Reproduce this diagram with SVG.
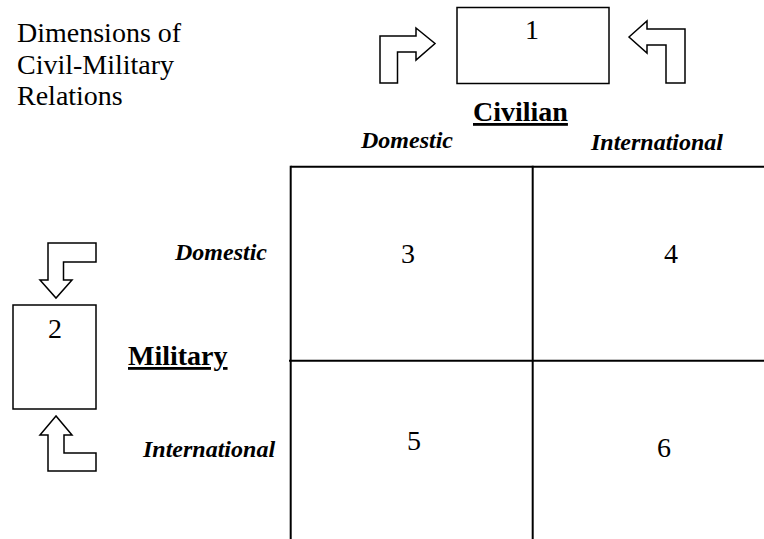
<svg xmlns="http://www.w3.org/2000/svg" width="764" height="539" viewBox="0 0 764 539">
<style>
text{font-family:"Liberation Serif","Times New Roman",serif;fill:#000}
.t{font-size:28px}
.d{font-size:28px;text-anchor:middle}
.lab{font-size:24px;font-weight:bold;font-style:italic}
.hd{font-size:28px;font-weight:bold;text-decoration:underline}
.box{fill:#fff;stroke:#000;stroke-width:1.5}
.arr{fill:#fff;stroke:#000;stroke-width:1.5;stroke-linejoin:miter}
.grid{stroke:#000;stroke-width:2;fill:none}
</style>
<rect width="764" height="539" fill="#fff"/>
<g id="title">
<text class="t" x="17" y="42">Dimensions of</text>
<text class="t" x="17" y="74">Civil-Military</text>
<text class="t" x="17" y="105">Relations</text>
</g>
<g id="box1">
<rect class="box" x="457" y="7.5" width="152" height="76"/>
<text class="d" x="532" y="39">1</text>
</g>
<g id="box2">
<rect class="box" x="13" y="305" width="83" height="104"/>
<text class="d" x="55" y="338">2</text>
</g>
<g id="connectors">
<polygon class="arr" points="380,83 380,36 416,36 416,28 435,43.5 416,60 416,52 397.5,52 397.5,83"/>
<polygon class="arr" points="629,37 647,21 647,29 685,29 685,83 666,83 666,45 647,45 647,53"/>
<polygon class="arr" points="96,243 48,243 48,280 40,280 56,298 72,280 63.5,280 63.5,262 96,262"/>
<polygon class="arr" points="56,416 40,435 48,435 48,471 96,471 96,453 64,453 64,435 72,435"/>
</g>
<g id="grid">
<line class="grid" x1="290.7" y1="166.7" x2="764" y2="166.7"/>
<line class="grid" x1="289" y1="360.7" x2="764" y2="360.7"/>
<line class="grid" x1="290.7" y1="165.7" x2="290.7" y2="539"/>
<line class="grid" x1="532.7" y1="165.7" x2="532.7" y2="539"/>
</g>
<g id="cell3"><text class="d" x="408" y="263">3</text></g>
<g id="cell4"><text class="d" x="671" y="263">4</text></g>
<g id="cell5"><text class="d" x="414" y="450">5</text></g>
<g id="cell6"><text class="d" x="664" y="457">6</text></g>
<g id="civilian">
<text class="hd" x="473" y="121">Civilian</text>
<text class="lab" x="361" y="148">Domestic</text>
<text class="lab" x="723" y="150" text-anchor="end">International</text>
</g>
<g id="military">
<text class="hd" x="128" y="365">Military</text>
<text class="lab" x="175" y="260">Domestic</text>
<text class="lab" x="143" y="457">International</text>
</g>
</svg>
